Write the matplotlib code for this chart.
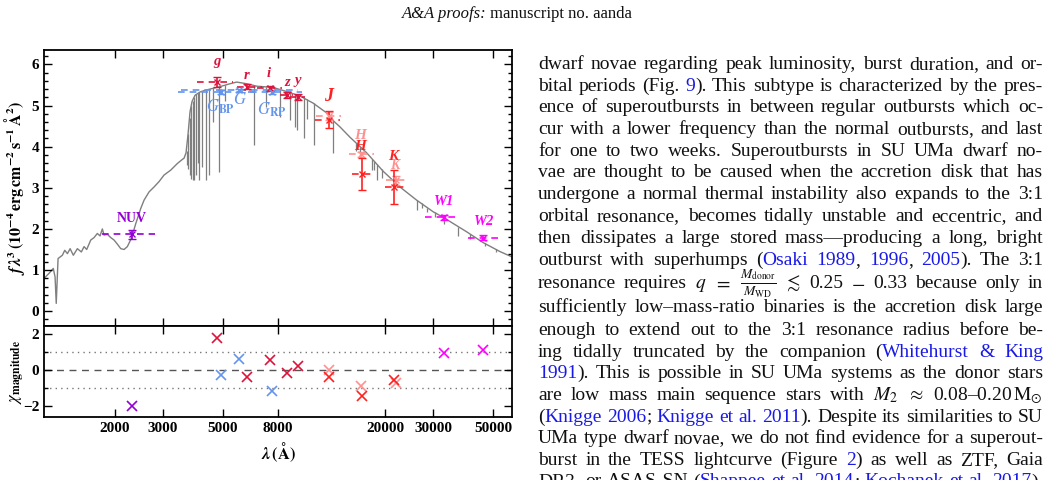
import numpy as np
import matplotlib
matplotlib.use('Agg')
import matplotlib.pyplot as plt
from matplotlib.ticker import FixedLocator, NullLocator, MultipleLocator
from matplotlib.mathtext import MathTextParser

plt.rcParams['font.family'] = ['Liberation Serif', 'DejaVu Serif']
plt.rcParams['mathtext.fontset'] = 'stix'

W, H = 1056, 480

# model spectrum (wavelength in A, f*lambda^3 in 1e-4 units)
spec_lam = [1093, 1140, 1182, 1200, 1212, 1231, 1277, 1303, 1333, 1364, 1402, 1451,
            1501, 1536, 1571, 1626, 1673, 1720, 1760, 1795, 1821, 1873, 1928, 1983,
            2040, 2100, 2159, 2221, 2298, 2386, 2490, 2561, 2672, 2788, 2909, 3036,
            3214, 3400, 3548, 3600, 3661, 3724, 3788, 3854, 3953, 4126, 4303, 4491,
            4891, 5326, 5637, 6138, 6687, 7681, 8630, 9668, 10797, 12131, 12830,
            13587, 14790, 17052, 19640, 22645, 26097, 30000, 32940, 39966, 45920,
            53060, 58780]
spec_flux = [0.80, 0.92, 1.04, 0.83, 0.19, 1.28, 1.36, 1.48, 1.40, 1.52, 1.36, 1.52,
             1.44, 1.57, 1.50, 1.73, 1.79, 1.89, 1.83, 2.00, 1.85, 1.87, 1.79, 1.73,
             1.63, 1.52, 1.50, 1.57, 1.77, 2.13, 2.50, 2.70, 2.90, 3.02, 3.15, 3.31,
             3.43, 3.59, 3.69, 3.72, 3.85, 4.30, 4.85, 5.10, 5.25, 5.33, 5.37, 5.40,
             5.46, 5.53, 5.57, 5.53, 5.47, 5.44, 5.34, 5.23, 5.06, 4.82, 4.63,
             4.48, 4.23, 3.85, 3.40, 3.02, 2.70, 2.42, 2.27, 1.93, 1.67,
             1.45, 1.32]

# absorption lines: wavelength, top and bottom of each dip
line_lam = [3678, 3724, 3771, 3820, 3876, 3920, 3988, 4040, 4101, 4196, 4330, 4453,
            4608, 4848, 5102, 6533, 7237, 8153, 8878, 9262, 9446, 10000, 10260,
            10890, 12770, 15570, 16110, 17840, 18150, 18670, 19380, 26097, 27240,
            28580, 30520, 32940, 37210, 41100, 46700, 51300]
line_top = [3.90, 4.30, 4.70, 5.00, 5.12, 5.20, 5.27, 5.30, 5.32, 5.35, 5.37, 5.39,
            5.42, 5.45, 5.49, 5.49, 5.45, 5.38, 5.31, 5.28, 5.26, 5.19, 5.16,
            5.05, 4.65, 4.10, 4.00, 3.70, 3.66, 3.58, 3.45, 2.70, 2.62,
            2.52, 2.40, 2.27, 2.05, 1.88, 1.65, 1.50]
line_bot = [3.55, 3.45, 3.30, 3.22, 3.19, 3.20, 3.30, 3.60, 3.19, 3.50, 3.19, 3.31,
            4.60, 3.39, 5.10, 4.04, 4.97, 4.73, 4.65, 4.48, 4.40, 4.20, 4.68,
            4.04, 3.85, 3.90, 3.80, 3.43, 3.43, 3.20, 3.23, 2.46, 2.52,
            2.42, 2.29, 2.12, 1.84, 1.75, 1.58, 1.43]

# photometry: GALEX
nuv_lam = [2318]
nuv_flux = [1.87]
nuv_err = [0.11]
nuv_lo = [1794]
nuv_hi = [2810]
nuv_chi = [-1.98]

# Pan-STARRS
ps_names = ['g', 'r', 'i', 'z', 'y']
ps_lam = [4782, 6140, 7480, 8630, 9520]
ps_flux = [5.58, 5.46, 5.42, 5.26, 5.20]
ps_err = [0.12, 0.07, 0.06, 0.07, 0.07]
ps_lo = [4010, 5637, 6687, 8153, 8878]
ps_hi = [5476, 6974, 8272, 9107, 10084]
ps_chi = [1.76, -0.37, 0.56, -0.15, 0.22]

# Gaia
gaia_lam = [4925, 5740, 7590]
gaia_flux = [5.33, 5.37, 5.33]
gaia_err = [0.04, 0.03, 0.04]
gaia_lo = [3420, 3500, 6300]
gaia_hi = [6700, 9500, 9800]
gaia_chi = [-0.28, 0.61, -1.15]

# near-IR, two sets (solid and faded)
nir_names = ['J', 'H', 'K']
nir_lam = [12320, 16420, 21540]
nir_flux = [4.66, 3.33, 3.02]
nir_err = [0.20, 0.39, 0.41]
nir_lo = [10990, 15020, 19940]
nir_hi = [13590, 17780, 23400]
nir_chi = [-0.37, -1.44, -0.52]

nir2_lam = [12380, 16270, 21900]
nir2_flux = [4.74, 3.82, 3.18]
nir2_err = [0.10, 0.06, 0.10]
nir2_lo = [11100, 14720, 20100]
nir2_hi = [13700, 18150, 23900]
nir2_chi = [0.0, -0.89, -0.70]

# WISE
wise_names = ['W1', 'W2']
wise_lam = [33080, 45800]
wise_flux = [2.28, 1.79]
wise_err = [0.06, 0.06]
wise_lo = [28000, 40400]
wise_hi = [37540, 52600]
wise_chi = [0.93, 1.11]

c_nuv = '#9400D3'
c_ps = '#DC143C'
c_gaia = '#6495ED'
c_nir = '#FF2020'
c_nir2 = '#FF9090'
c_wise = '#FF00FF'
c_spec = '#7f7f7f'

xticks = [2000, 3000, 5000, 8000, 20000, 30000, 50000]


def mt_ok(s):
    try:
        MathTextParser('agg').parse(s, dpi=100)
        return True
    except Exception:
        return False


fig = plt.figure(figsize=(W / 100, H / 100), dpi=100)
ax = fig.add_axes([44 / W, 1 - 326 / H, 468 / W, 276 / H])
axr = fig.add_axes([44 / W, 1 - 417 / H, 468 / W, 91 / H], sharex=ax)

ax.plot(spec_lam, spec_flux, color=c_spec, lw=1.0, zorder=1)
ax.vlines(line_lam, line_bot, line_top, color=c_spec, lw=0.9, zorder=1)

sets = [
    (nuv_lam, nuv_flux, nuv_err, nuv_lo, nuv_hi, nuv_chi, c_nuv),
    (ps_lam, ps_flux, ps_err, ps_lo, ps_hi, ps_chi, c_ps),
    (gaia_lam, gaia_flux, gaia_err, gaia_lo, gaia_hi, gaia_chi, c_gaia),
    (nir2_lam, nir2_flux, nir2_err, nir2_lo, nir2_hi, nir2_chi, c_nir2),
    (nir_lam, nir_flux, nir_err, nir_lo, nir_hi, nir_chi, c_nir),
    (wise_lam, wise_flux, wise_err, wise_lo, wise_hi, wise_chi, c_wise),
]
for lam, fl, er, lo, hi, chi, c in sets:
    ax.hlines(fl, lo, hi, colors=c, linestyles=(0, (4, 3)), lw=1.2, zorder=2)
    ax.errorbar(lam, fl, yerr=er, fmt='x', ms=4, mew=1.0, color=c, ecolor=c,
                elinewidth=1.2, capsize=3, capthick=1.2, zorder=3)
    axr.plot(lam, chi, 'x', ms=7, mew=1.2, color=c, zorder=3)

# band labels
lab_kw = dict(ha='center', va='center', fontweight='bold')
ax.text(2300, 2.26, 'NUV', color=c_nuv, fontsize=10, **lab_kw)
for name, x, y in zip(ps_names, [4766, 6117, 7394, 8652, 9504], [6.06, 5.74, 5.77, 5.57, 5.60]):
    ax.text(x, y, name, color=c_ps, fontsize=10.5, style='italic', **lab_kw)
ax.text(4900, 4.96, r'$\mathit{G}_{\mathbf{BP}}$', color=c_gaia, fontsize=12, **lab_kw)
ax.text(5820, 5.13, r'$\mathit{G}$', color=c_gaia, fontsize=12, **lab_kw)
ax.text(7620, 4.89, r'$\mathit{G}_{\mathbf{RP}}$', color=c_gaia, fontsize=12, **lab_kw)
ax.text(12280, 5.21, 'J', color=c_nir, fontsize=13, style='italic', **lab_kw)
ax.text(16180, 4.26, 'H', color=c_nir2, fontsize=11, style='italic', **lab_kw)
ax.text(16180, 4.01, 'H', color=c_nir, fontsize=11, style='italic', **lab_kw)
ax.text(21420, 3.75, 'K', color=c_nir, fontsize=11, style='italic', **lab_kw)
ax.text(21700, 3.55, 'K', color=c_nir2, fontsize=10, style='italic', **lab_kw)
for name, x, y in zip(wise_names, [33080, 46200], [2.66, 2.19]):
    ax.text(x, y, name, color=c_wise, fontsize=10.5, style='italic', **lab_kw)

axr.axhline(0, color='#555555', lw=1.0, ls=(0, (5, 4)), zorder=1)
axr.axhline(1, color='#777777', lw=1.0, ls=(0, (1, 3)), zorder=1)
axr.axhline(-1, color='#777777', lw=1.0, ls=(0, (1, 3)), zorder=1)

for a in (ax, axr):
    a.set_xscale('log')
    a.set_xlim(1092, 58800)
    a.xaxis.set_major_locator(FixedLocator(xticks))
    a.xaxis.set_minor_locator(NullLocator())
    a.tick_params(which='both', direction='in', top=True, right=True, width=1.0,
                  labelsize=11)
    a.tick_params(which='major', length=6)
    a.tick_params(which='minor', length=3)
    for s in a.spines.values():
        s.set_linewidth(1.3)

ax.set_ylim(-0.36, 6.35)
ax.yaxis.set_major_locator(MultipleLocator(1))
ax.yaxis.set_minor_locator(MultipleLocator(0.2))
ax.tick_params(labelbottom=False)
axr.set_ylim(-2.6, 2.45)
axr.yaxis.set_major_locator(MultipleLocator(2))
axr.yaxis.set_minor_locator(MultipleLocator(1))
axr.set_xticklabels([str(t) for t in xticks], fontweight='bold')
for a in (ax, axr):
    for lbl in a.get_yticklabels():
        lbl.set_fontweight('bold')

ylab = r'$\mathbfit{f\,\lambda}^{\mathbf{3}}\,\mathbf{(10^{-4}\,erg\,cm^{-2}\,s^{-1}\,\AA^{2})}$'
if not mt_ok(ylab):
    ylab = r'$\mathbf{f\,\lambda^{3}\,(10^{-4}\,erg\,cm^{-2}\,s^{-1}\,\AA^{2})}$'
xlab = r'$\mathbfit{\lambda}\,\mathbf{(\AA)}$'
if not mt_ok(xlab):
    xlab = r'$\mathbf{\lambda\,(\AA)}$'
ax.set_ylabel(ylab, fontsize=11.5)
ax.yaxis.set_label_coords(-0.037, 0.5)
axr.set_ylabel(r'$\chi_{\mathbf{magnitude}}$', fontsize=12)
axr.yaxis.set_label_coords(-0.037, 0.5)
axr.set_xlabel(xlab, fontsize=12)

# page header
renderer = fig.canvas.get_renderer()


def put(x_px, y_px, s, **kw):
    t = fig.text(x_px / W, 1 - y_px / H, s, va='baseline', ha='left', **kw)
    return t, t.get_window_extent(renderer).width


t1, w1 = put(402, 18.5, 'A&A proofs:', fontsize=12, style='italic', color='#111111')
put(402 + w1 + 3, 18.5, 'manuscript no. aanda', fontsize=12, color='#111111')

# right column text, [ ] marks link text
body = [
    'dwarf novae regarding peak luminosity, burst duration, and or-',
    'bital periods (Fig. [9]). This subtype is characterized by the pres-',
    'ence of superoutbursts in between regular outbursts which oc-',
    'cur with a lower frequency than the normal outbursts, and last',
    'for one to two weeks. Superoutbursts in SU UMa dwarf no-',
    'vae are thought to be caused when the accretion disk that has',
    'undergone a normal thermal instability also expands to the 3:1',
    'orbital resonance, becomes tidally unstable and eccentric, and',
    'then dissipates a large stored mass\u2014producing a long, bright',
    'outburst with superhumps ([Osaki 1989], [1996], [2005]). The 3:1',
    r'resonance requires $q$ $=$ $\frac{M_{\mathrm{donor}}}{M_{\mathrm{WD}}}$ $\lesssim$ 0.25 $-$ 0.33 because only in',
    'sufficiently low\u2013mass-ratio binaries is the accretion disk large',
    'enough to extend out to the 3:1 resonance radius before be-',
    'ing tidally truncated by the companion ([Whitehurst & King]',
    '[1991]). This is possible in SU UMa systems as the donor stars',
    r'are low mass main sequence stars with $M_2$ $\approx$ 0.08' + '\u2013' + r'0.20$\,\mathrm{M}_{\odot}$',
    '([Knigge 2006]; [Knigge et al. 2011]). Despite its similarities to SU',
    'UMa type dwarf novae, we do not find evidence for a superout-',
    'burst in the TESS lightcurve (Figure [2]) as well as ZTF, Gaia',
    'DR3, or ASAS-SN ([Shappee et al. 2014]; [Kochanek et al. 2017]).',
]
baselines = [69.3, 90.9, 112.5, 134.0, 155.5, 177.0, 199.0, 221.3, 243.0, 265.0,
             288.3, 311.7, 335.0, 356.7, 378.3, 400.0, 421.7, 443.3, 465.0, 486.5]


def parse(s):
    words, cur, buf, blue = [], [], '', False
    for ch in s + ' ':
        if ch in '[]':
            if buf:
                cur.append((buf, blue))
                buf = ''
            blue = ch == '['
        elif ch == ' ':
            if buf:
                cur.append((buf, blue))
                buf = ''
            if cur:
                words.append(cur)
                cur = []
        else:
            buf += ch
    return words


x0, x1 = 538, 1043
fs = 14
for s, yb in zip(body, baselines):
    words = parse(s)
    widths = []
    for w in words:
        tw = 0
        for seg, b in w:
            t = fig.text(0, 0, seg, fontsize=fs)
            tw += t.get_window_extent(renderer).width
            t.remove()
        widths.append(tw)
    gap = (x1 - x0 - sum(widths)) / (len(words) - 1)
    x = x0
    for w, tw in zip(words, widths):
        xx = x
        for seg, b in w:
            _, sw = put(xx, yb, seg, fontsize=fs, color='#1a1ae6' if b else '#111111')
            xx += sw
        x += tw + gap

fig.savefig('out.png', dpi=100)
